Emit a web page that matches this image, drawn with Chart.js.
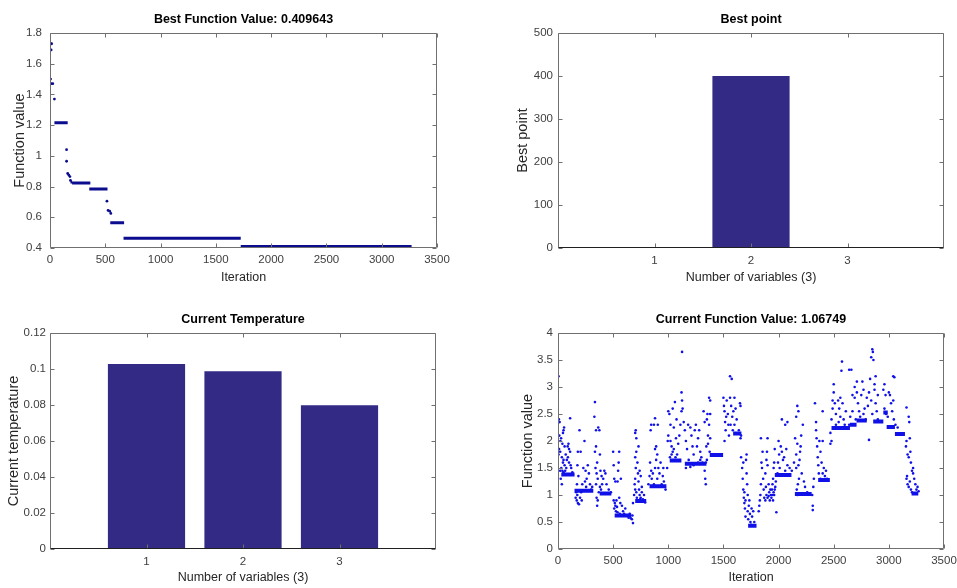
<!DOCTYPE html>
<html>
<head>
<meta charset="utf-8">
<script src="https://cdn.jsdelivr.net/npm/chart.js@4.4.1/dist/chart.umd.min.js"></script>
<style>
body { margin: 0; background: #fff; width: 957px; height: 588px; position: relative; overflow: hidden; }
canvas { position: absolute; }
</style>
</head>
<body>
<canvas id="bestValChart" width="478" height="290" style="left:0;top:0"></canvas>
<canvas id="bestPointChart" width="479" height="290" style="left:478px;top:0"></canvas>
<canvas id="tempChart" width="478" height="298" style="left:0;top:290px"></canvas>
<canvas id="curValChart" width="479" height="298" style="left:478px;top:290px"></canvas>
<script>
// ---- data ----
const iterTicks = [0, 500, 1000, 1500, 2000, 2500, 3000, 3500];
const varTicks = [1, 2, 3];

// best function value: flat runs [from, to, value] and single drops [iter, value]
const bestRuns = [
  [40, 160, 1.215], [185, 200, 0.83], [200, 365, 0.823], [355, 520, 0.784],
  [545, 670, 0.565], [665, 1725, 0.463], [1725, 3270, 0.41]
];
const bestDrops = [
  [5, 1.73], [15, 1.73], [10, 1.69], [5, 1.50], [10, 1.47], [25, 1.47], [40, 1.37],
  [150, 1.04], [150, 0.965], [160, 0.885], [170, 0.875], [180, 0.865], [185, 0.84],
  [515, 0.705], [525, 0.645], [540, 0.64], [550, 0.625]
];
const bestValTicks = [0.4, 0.6, 0.8, 1, 1.2, 1.4, 1.6, 1.8];

// best point
const bestPoint = [0, 400, 0];
const bestPointTicks = [0, 100, 200, 300, 400, 500];

// current temperature
const temperature = [0.1028, 0.0987, 0.0798];
const tempTicks = [0, 0.02, 0.04, 0.06, 0.08, 0.1, 0.12];

// current function value: dense runs [from, to, value] and scattered points [iter, value]
const curRuns = [
  [30, 150, 1.38], [150, 320, 1.08], [378, 484, 1.03], [514, 665, 0.62],
  [700, 800, 0.89], [830, 983, 1.16], [1013, 1119, 1.64], [1150, 1346, 1.58],
  [1376, 1497, 1.74], [1588, 1663, 2.14], [1724, 1800, 0.43], [1966, 2117, 1.37],
  [2148, 2300, 1.02], [2359, 2465, 1.28], [2480, 2647, 2.24], [2647, 2707, 2.3],
  [2707, 2800, 2.38], [2858, 2950, 2.36], [2950, 2990, 2.53], [2980, 3055, 2.26],
  [3055, 3146, 2.13], [3206, 3267, 1.03]
];
const curPoints = [
  [5,3.2],[8,2.4],[15,2.35],[12,2.1],[28,2.05],[22,2.0],[40,1.95],[10,1.85],[20,1.8],[5,1.75],[35,1.7],[50,1.65],[45,1.6],[60,1.55],[30,1.5],[20,1.45],[40,1.45],[50,1.42],[35,1.2],[50,2.2],[55,2.25],[45,2.15],[60,1.9],[70,1.75],[80,1.65],[75,1.5],[95,1.95],[100,1.85],[110,1.8],[90,1.7],[100,1.6],[115,1.55],[110,2.42],[88,1.9],[25,1.3],[65,1.45],[120,1.5],[130,1.42],
  [160,0.95],[170,0.9],[180,0.85],[190,0.83],[200,0.95],[175,1.0],[165,1.05],[172,1.2],[185,1.35],[180,1.8],[176,1.55],[195,2.2],[205,1.8],[240,2.0],[230,1.5],[250,1.45],[260,1.3],[220,1.2],[270,1.55],[280,1.4],[245,1.25],[210,1.05],[215,0.9],[255,1.15],[290,1.2],[300,1.1],[310,1.15],
  [335,2.72],[330,2.45],[345,2.2],[365,2.25],[375,2.2],[345,1.9],[335,1.8],[355,1.6],[340,1.5],[350,1.4],[360,1.3],[345,1.2],[350,0.95],[355,0.8],[360,0.9],[380,1.75],[385,1.45],[395,1.35],[400,1.2],[420,1.45],[430,1.4],[410,1.3],[380,1.15],[390,1.1],[370,1.05],[440,1.2],[460,1.1],[480,1.05],
  [500,1.8],[505,1.55],[510,1.3],[540,1.25],[555,1.8],[550,1.6],[545,1.45],[520,1.25],[505,0.9],[515,0.85],[520,0.8],[510,0.75],[525,0.7],[540,0.68],[560,0.65],[530,0.9],[555,0.95],[565,0.85],[580,0.8],[590,0.7],[600,0.65],[620,0.62],[640,0.58],[660,0.57],[670,0.55],[680,0.48],[675,0.62],[610,0.75],[570,1.3],[535,0.78],[595,0.63],[650,0.65],
  [680,0.85],[690,1.0],[700,1.1],[695,1.2],[700,1.3],[705,1.5],[700,1.7],[710,1.8],[700,2.15],[705,2.2],[710,2.05],[710,1.05],[715,0.95],[720,1.6],[725,1.4],[730,1.25],[735,1.1],[740,1.0],[750,0.95],[740,1.45],[730,1.9],[750,1.35],[760,1.15],[770,0.92],[790,0.86],[760,1.05],[745,0.92],[780,1.0],
  [820,1.2],[830,1.35],[835,1.6],[845,1.45],[850,1.3],[840,2.2],[845,2.3],[870,2.3],[880,2.42],[905,2.3],[880,1.85],[900,1.75],[890,1.65],[880,1.5],[910,1.5],[920,1.4],[930,1.6],[900,1.3],[890,1.9],[950,1.35],[960,1.25],[955,1.5],[870,1.2],[860,1.4],[940,1.2],[975,1.1],
  [990,1.5],[995,2.0],[1000,2.1],[1000,2.55],[1010,2.5],[1020,2.3],[1020,2.0],[1030,1.9],[1040,1.8],[1030,1.75],[1050,1.85],[1050,2.25],[1040,2.6],[1060,2.72],[1075,2.4],[1070,2.05],[1080,1.75],[1090,1.95],[1100,2.1],[1110,2.3],[1120,2.55],[1125,2.75],[1120,2.9],[1125,3.65],[1130,2.6],[1140,2.35],[1150,2.2],[1160,2.0],[1170,1.85],[1180,2.3],[1200,2.25],[1210,2.1],[1220,1.9],[1230,1.75],[1240,2.2],[1250,2.3],[1260,1.9],[1270,1.6],[1280,2.2],[1290,1.8],[1300,1.7],[1290,1.65],[1160,1.5],[1200,1.52],[1015,1.7],[1065,1.7],[1185,1.65],[1230,1.55],[1270,2.05],
  [1320,2.55],[1330,2.35],[1330,1.45],[1335,1.3],[1340,1.2],[1340,1.6],[1345,1.9],[1360,2.1],[1350,2.4],[1355,2.5],[1370,2.8],[1380,2.75],[1380,2.5],[1370,2.3],[1380,2.05],[1375,1.8],[1360,1.95],[1350,1.65],[1310,1.6],
  [1500,2.8],[1505,2.65],[1510,2.55],[1515,2.35],[1520,2.2],[1510,2.0],[1530,2.75],[1540,2.5],[1545,2.3],[1550,2.1],[1560,3.2],[1575,3.15],[1560,2.8],[1570,2.65],[1580,2.45],[1590,2.55],[1600,2.8],[1610,2.6],[1620,2.4],[1600,2.3],[1640,2.2],[1650,2.7],[1655,2.65],[1660,2.1],[1655,2.05],[1525,2.45],[1565,2.3],[1585,2.2],
  [1660,1.7],[1680,1.6],[1670,1.5],[1675,1.3],[1680,1.1],[1685,0.95],[1690,0.85],[1695,0.75],[1700,0.6],[1710,1.75],[1705,1.65],[1710,1.4],[1715,1.2],[1720,1.0],[1720,0.7],[1725,0.55],[1730,0.8],[1740,0.65],[1745,0.5],[1760,0.6],[1770,0.7],[1750,0.45],[1690,1.05],[1700,0.9],[1735,0.9],[1755,0.75],[1780,0.5],
  [1820,0.7],[1825,0.8],[1830,0.9],[1835,1.0],[1840,1.2],[1840,2.05],[1850,1.5],[1845,1.6],[1855,1.8],[1860,1.3],[1865,1.1],[1870,0.95],[1880,0.9],[1880,1.4],[1890,1.65],[1895,1.8],[1900,2.05],[1900,1.55],[1910,1.2],[1915,1.05],[1920,0.9],[1930,1.0],[1940,1.1],[1945,1.2],[1950,1.3],[1955,1.5],[1965,1.85],[1960,1.6],[1960,1.0],[1980,0.68],[1975,1.25],[1970,1.15],[1955,1.05],[1890,1.0],[1900,0.95],[1925,1.1],[1935,0.95],[1945,1.0],[1885,1.15],[1910,0.98],[1950,0.9],[1965,1.1],
  [1990,1.4],[1995,1.6],[2000,2.0],[2005,1.75],[2010,1.5],[2020,1.9],[2030,2.4],[2030,1.8],[2040,1.65],[2060,2.3],[2080,2.35],[2070,1.85],[2080,1.55],[2050,1.7],[2060,1.45],[2100,1.5],[2120,1.45],[2150,2.05],[2160,2.45],[2170,2.65],[2180,2.55],[2170,1.95],[2160,1.75],[2160,1.5],[2180,1.55],[2190,1.65],[2195,1.8],[2200,1.9],[2205,2.1],[2170,1.0],[2165,1.1],[2175,1.2],[2185,1.3],[2220,2.3],[2230,1.25],[2240,1.15],[2260,1.05],[2140,1.6],[2210,1.4],
  [2310,0.72],[2310,0.8],[2305,1.0],[2315,1.15],[2320,1.3],[2330,2.7],[2340,2.35],[2340,2.2],[2345,2.05],[2350,1.9],[2355,1.7],[2360,1.55],[2370,2.0],[2380,1.8],[2390,1.6],[2400,1.4],[2410,1.5],[2400,2.55],[2400,2.0],[2420,1.35],[2430,1.45],[2380,1.3],[2365,1.4],[2440,1.3],
  [2470,1.95],[2480,2.0],[2470,2.15],[2480,2.4],[2490,2.6],[2490,2.75],[2500,2.9],[2500,3.05],[2510,2.7],[2520,2.5],[2520,2.3],[2540,2.75],[2560,2.8],[2550,2.6],[2560,2.45],[2545,2.35],[2570,3.3],[2575,3.47],[2580,2.7],[2590,2.4],[2600,2.3],[2610,2.55],[2640,2.3],[2640,3.32],[2660,3.32],[2670,2.85],[2670,2.55],[2650,2.45],[2690,2.8],[2690,3.0],[2700,2.4],
  [2710,3.1],[2710,2.9],[2720,2.7],[2730,2.55],[2740,2.45],[2750,2.85],[2760,3.1],[2770,2.95],[2780,2.6],[2770,2.5],[2790,2.4],[2800,2.8],[2810,2.65],[2820,2.9],[2830,3.15],[2840,3.55],[2850,3.7],[2855,3.65],[2860,3.5],[2820,2.02],[2840,2.75],[2850,2.5],[2870,2.95],[2880,3.2],[2870,3.05],[2880,2.7],[2890,2.55],[2900,2.4],[2900,2.85],
  [2950,2.95],[2960,3.05],[2970,2.85],[2960,2.6],[2975,2.5],[2990,2.45],[3000,2.9],[3010,2.85],[3020,2.7],[3030,2.55],[3040,3.2],[3050,3.18],[3040,2.75],[3045,2.4],[3060,2.3],[3080,2.25],
  [3160,2.62],[3180,2.45],[3185,2.35],[3160,2.0],[3155,1.9],[3170,1.75],[3180,1.7],[3190,2.05],[3195,1.8],[3200,1.6],[3210,1.45],[3165,1.35],[3160,1.3],[3170,1.2],[3180,1.15],[3190,1.25],[3200,1.1],[3210,1.05],[3220,1.4],[3230,1.3],[3240,1.2],[3250,1.1],[3220,1.5],[3260,1.15],[3270,1.07]
];
const curValTicks = [0, 0.5, 1, 1.5, 2, 2.5, 3, 3.5, 4];

// ---- look ----
Chart.defaults.font.family = '"Liberation Sans", Arial, sans-serif';
Chart.defaults.color = '#404040';
Chart.defaults.animation = false;

const barColor = '#322a84';
const dotBlue = '#1010e8';
const navy = '#0c0c8e';

// box round the axes with inward ticks on all four sides
const matlabBox = {
  id: 'matlabBox',
  afterDatasetsDraw(chart, args, opts) {
    const { ctx, chartArea: a, scales: { x, y } } = chart;
    const L = Math.round(a.left) + 0.5, R = Math.round(a.right) - 0.5;
    const T = Math.round(a.top) + 0.5, B = Math.round(a.bottom) - 0.5;
    ctx.save();
    ctx.lineWidth = 1;
    ctx.strokeStyle = '#707070';
    ctx.beginPath();
    ctx.rect(L, T, R - L, B - T);
    x.ticks.forEach(t => {
      const px = Math.round(x.getPixelForValue(t.value)) + 0.5;
      ctx.moveTo(px, B); ctx.lineTo(px, B - 4);
      ctx.moveTo(px, T); ctx.lineTo(px, T + 4);
    });
    y.ticks.forEach(t => {
      const py = Math.round(y.getPixelForValue(t.value)) + 0.5;
      ctx.moveTo(L, py); ctx.lineTo(L + 4, py);
      ctx.moveTo(R, py); ctx.lineTo(R - 4, py);
    });
    ctx.stroke();
    if (opts.baseline) {
      ctx.strokeStyle = '#202020';
      ctx.beginPath();
      ctx.moveTo(L, B); ctx.lineTo(R, B);
      ctx.stroke();
    }
    ctx.restore();
  }
};

function axis(min, max, ticks, title, o) {
  return {
    type: 'linear', min, max, offset: false,
    afterBuildTicks: s => { s.ticks = ticks.map(v => ({ value: v })); },
    grid: { display: false, drawTicks: false },
    border: { display: false },
    ticks: {
      padding: o.tickPad, autoSkip: false, maxRotation: 0,
      font: { size: 11.5 }, color: '#404040',
      callback: v => String(+v.toFixed(4))
    },
    title: {
      display: true, text: title, color: '#262626', font: { size: o.horiz ? 12.5 : 14.5 },
      padding: o.horiz ? { top: 0, bottom: o.titlePad } : { top: o.titlePad, bottom: 0 }
    },
    afterFit: s => {
      s.paddingLeft = s.paddingRight = s.paddingTop = s.paddingBottom = 0;
      if (o.horiz) s.height = o.size; else s.width = o.size;
    }
  };
}

function baseOptions(title, padTop, padRight, scales, baseline) {
  return {
    responsive: false,
    layout: { padding: { top: padTop, left: 0, right: padRight, bottom: 0 } },
    plugins: {
      legend: { display: false },
      tooltip: { enabled: false },
      title: {
        display: true, text: title, fullSize: false, color: '#000',
        font: { size: 12.5, weight: 'bold' }, padding: { top: 0, bottom: 5.5 }
      },
      matlabBox: { baseline }
    },
    scales
  };
}

const toXY = pairs => pairs.map(p => ({ x: p[0], y: p[1] }));
const runsToXY = runs => runs.flatMap(r => [{ x: r[0], y: r[2] }, { x: r[1], y: r[2] }, { x: r[1], y: null }]);

// BEST FUNCTION VALUE
new Chart(document.getElementById('bestValChart'), {
  type: 'scatter',
  data: {
    datasets: [
      { data: runsToXY(bestRuns), showLine: true, spanGaps: false, borderColor: navy, borderWidth: 3, pointRadius: 0 },
      { data: toXY(bestDrops), pointRadius: 1.4, pointBackgroundColor: navy, pointBorderWidth: 0 }
    ]
  },
  options: baseOptions('Best Function Value: 0.409643', 12.5, 41, {
    x: axis(0, 3500, iterTicks, 'Iteration', { horiz: true, size: 42, tickPad: 5.4, titlePad: 4.5 }),
    y: axis(0.4, 1.8, bestValTicks, 'Function value', { size: 50, tickPad: 8, titlePad: 11.3 })
  }, false),
  plugins: [matlabBox]
});

// BEST POINT
new Chart(document.getElementById('bestPointChart'), {
  type: 'bar',
  data: {
    datasets: [{
      data: varTicks.map((v, i) => ({ x: v, y: bestPoint[i] })),
      backgroundColor: barColor, borderWidth: 0, barPercentage: 0.8, categoryPercentage: 1
    }]
  },
  options: baseOptions('Best point', 12.5, 13, {
    x: axis(0, 4, varTicks, 'Number of variables (3)', { horiz: true, size: 42, tickPad: 6.4, titlePad: 4.5 }),
    y: axis(0, 500, bestPointTicks, 'Best point', { size: 80, tickPad: 5, titlePad: 36.3 })
  }, true),
  plugins: [matlabBox]
});

// CURRENT TEMPERATURE
new Chart(document.getElementById('tempChart'), {
  type: 'bar',
  data: {
    datasets: [{
      data: varTicks.map((v, i) => ({ x: v, y: temperature[i] })),
      backgroundColor: barColor, borderWidth: 0, barPercentage: 0.8, categoryPercentage: 1
    }]
  },
  options: baseOptions('Current Temperature', 22.5, 42, {
    x: axis(0, 4, varTicks, 'Number of variables (3)', { horiz: true, size: 39, tickPad: 6.4, titlePad: 2.5 }),
    y: axis(0, 0.12, tempTicks, 'Current temperature', { size: 50, tickPad: 4, titlePad: 5.3 })
  }, true),
  plugins: [matlabBox]
});

// CURRENT FUNCTION VALUE
new Chart(document.getElementById('curValChart'), {
  type: 'scatter',
  data: {
    datasets: [
      { data: runsToXY(curRuns), showLine: true, spanGaps: false, borderColor: dotBlue, borderWidth: 4, pointRadius: 0 },
      { data: toXY(curPoints), pointRadius: 1.3, pointBackgroundColor: dotBlue, pointBorderWidth: 0 }
    ]
  },
  options: baseOptions('Current Function Value: 1.06749', 22.5, 13, {
    x: axis(0, 3500, iterTicks, 'Iteration', { horiz: true, size: 39, tickPad: 5.4, titlePad: 2.5 }),
    y: axis(0, 4, curValTicks, 'Function value', { size: 80, tickPad: 5, titlePad: 41.3 })
  }, false),
  plugins: [matlabBox]
});
</script>
</body>
</html>
